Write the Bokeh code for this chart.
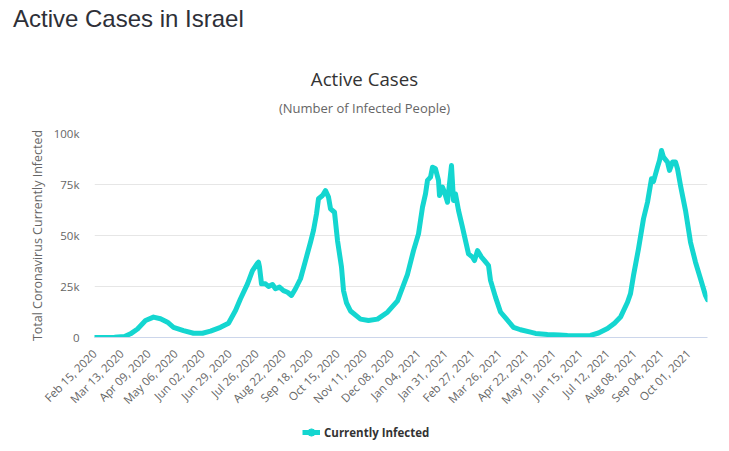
import math
import pandas as pd
from bokeh.plotting import figure
from bokeh.models import (Range1d, FixedTicker, DatetimeTickFormatter, Div,
                          Legend, LegendItem, ColumnDataSource)
from bokeh.layouts import column
from bokeh.embed import file_html
from bokeh.resources import INLINE

# ---- data ----
dates = [
    "2020-02-15", "2020-03-06", "2020-03-16", "2020-03-22", "2020-03-29",
    "2020-04-06", "2020-04-14", "2020-04-21", "2020-04-28", "2020-05-04",
    "2020-05-14", "2020-05-24", "2020-06-02", "2020-06-10", "2020-06-20",
    "2020-06-28", "2020-07-05", "2020-07-10", "2020-07-17", "2020-07-22",
    "2020-07-27", "2020-07-28", "2020-07-29", "2020-07-31", "2020-08-04",
    "2020-08-07", "2020-08-11", "2020-08-14", "2020-08-18", "2020-08-22",
    "2020-08-26", "2020-08-30", "2020-09-03", "2020-09-08", "2020-09-13",
    "2020-09-18", "2020-09-21", "2020-09-24", "2020-09-26", "2020-09-30",
    "2020-10-03", "2020-10-06", "2020-10-08", "2020-10-12", "2020-10-15",
    "2020-10-19", "2020-10-21", "2020-10-24", "2020-10-28", "2020-11-07",
    "2020-11-15", "2020-11-24", "2020-12-04", "2020-12-14", "2020-12-24",
    "2020-12-30", "2021-01-04", "2021-01-08", "2021-01-11", "2021-01-13",
    "2021-01-16", "2021-01-18", "2021-01-21", "2021-01-24", "2021-01-25",
    "2021-01-28", "2021-01-30", "2021-02-02", "2021-02-04", "2021-02-06",
    "2021-02-08", "2021-02-10", "2021-02-13", "2021-02-17", "2021-02-20",
    "2021-02-23", "2021-02-27", "2021-03-01", "2021-03-04", "2021-03-08",
    "2021-03-11", "2021-03-15", "2021-03-17", "2021-03-22", "2021-03-27",
    "2021-04-09", "2021-04-16", "2021-04-26", "2021-05-01", "2021-05-13",
    "2021-05-25", "2021-06-02", "2021-06-14", "2021-06-25", "2021-07-03",
    "2021-07-12", "2021-07-19", "2021-07-25", "2021-08-01", "2021-08-04",
    "2021-08-07", "2021-08-12", "2021-08-17", "2021-08-21", "2021-08-25",
    "2021-08-27", "2021-08-31", "2021-09-02", "2021-09-04", "2021-09-06",
    "2021-09-10", "2021-09-12", "2021-09-15", "2021-09-18", "2021-09-20",
    "2021-09-23", "2021-09-28", "2021-10-03", "2021-10-08", "2021-10-13",
    "2021-10-18", "2021-10-20",
]
active = [
    0, 100, 500, 1800, 4200,
    8300, 10000, 9200, 7500, 5000,
    3400, 2100, 2100, 3100, 5000,
    7000, 13200, 19000, 26300, 32800,
    36400, 36900, 34500, 26300, 26300,
    25000, 26000, 23900, 24700, 23000,
    22200, 20600, 23900, 28800, 37700,
    46700, 52500, 60600, 68000, 69600,
    72000, 68800, 63100, 61400, 47500,
    34500, 23000, 17000, 13000, 9000,
    8300, 9000, 12400, 18000, 31000,
    42600, 50800, 63900, 70400, 77000,
    78600, 83500, 82700, 77000, 69600,
    73700, 71200, 66300, 75300, 84300,
    67200, 70400, 62300, 54000, 47500,
    41000, 39400, 37700, 42600, 39400,
    37700, 35300, 28000, 19800, 12500,
    5000, 3800, 2600, 2000, 1500,
    1200, 1000, 900, 1000, 2200,
    4400, 7000, 10000, 17300, 21500,
    30400, 43500, 58200, 66300, 77800,
    76500, 83500, 86800, 91700, 88400,
    86000, 81900, 86000, 86000, 82700,
    74500, 62300, 46700, 36900, 28800,
    20600, 18500,
]
tick_labels = [
    "Feb 15, 2020", "Mar 13, 2020", "Apr 09, 2020", "May 06, 2020",
    "Jun 02, 2020", "Jun 29, 2020", "Jul 26, 2020", "Aug 22, 2020",
    "Sep 18, 2020", "Oct 15, 2020", "Nov 11, 2020", "Dec 08, 2020",
    "Jan 04, 2021", "Jan 31, 2021", "Feb 27, 2021", "Mar 26, 2021",
    "Apr 22, 2021", "May 19, 2021", "Jun 15, 2021", "Jul 12, 2021",
    "Aug 08, 2021", "Sep 04, 2021", "Oct 01, 2021",
]
x_start = "2020-02-15"
x_end = "2021-10-20"
y_ticks = [0, 25000, 50000, 75000, 100000]
y_tick_labels = ["0", "25k", "50k", "75k", "100k"]
series_name = "Currently Infected"

# ---- build ----
src = ColumnDataSource(dict(date=pd.to_datetime(dates), active=active))
tick_ms = [pd.Timestamp(t).value / 1e6 for t in pd.to_datetime(tick_labels, format="%b %d, %Y")]

LINE = "#14d6d0"
FONT = "Open Sans"
W = 729
HEAD_H = 118
FIG_H = 297
LEG_H = 36

p = figure(width=W, height=FIG_H, output_backend="svg", toolbar_location=None,
           x_axis_type="datetime",
           x_range=Range1d(pd.Timestamp(x_start), pd.Timestamp(x_end)),
           y_range=Range1d(0, 100000),
           min_border_left=94, min_border_right=22, min_border_top=15,
           min_border_bottom=78)
p.outline_line_color = None
p.background_fill_color = "white"
p.border_fill_color = "white"

p.line("date", "active", source=src, line_width=5, color=LINE,
       line_join="round", line_cap="round")

# x axis
xa = p.xaxis[0]
xa.ticker = FixedTicker(ticks=tick_ms)
fmt = "%b %d, %Y"
xa.formatter = DatetimeTickFormatter(milliseconds=fmt, seconds=fmt, minsec=fmt,
                                     minutes=fmt, hourmin=fmt, hours=fmt,
                                     days=fmt, months=fmt, years=fmt)
xa.major_label_orientation = math.pi / 4
xa.major_label_text_font = FONT
xa.major_label_text_font_size = "11.5px"
xa.major_label_text_color = "#666666"
xa.axis_line_color = "#ccd6eb"
xa.major_tick_line_color = None
xa.minor_tick_line_color = None
xa.major_tick_out = 0
xa.major_tick_in = 0
xa.major_label_standoff = 14

# y axis
ya = p.yaxis[0]
ya.ticker = FixedTicker(ticks=y_ticks)
ya.major_label_overrides = {t: l for t, l in zip(y_ticks, y_tick_labels)}
ya.major_label_text_font = FONT
ya.major_label_text_font_size = "11.5px"
ya.major_label_text_color = "#666666"
ya.axis_line_color = None
ya.major_tick_line_color = None
ya.minor_tick_line_color = None
ya.major_tick_out = 0
ya.major_tick_in = 0
ya.major_label_standoff = 15
ya.axis_label = "Total Coronavirus Currently Infected"
ya.axis_label_text_font = FONT
ya.axis_label_text_font_size = "12.5px"
ya.axis_label_text_font_style = "normal"
ya.axis_label_text_color = "#666666"
ya.axis_label_standoff = 5

p.xgrid.grid_line_color = None
p.ygrid.grid_line_color = "#e6e6e6"
p.ygrid.grid_line_width = 1

# legend strip (separate small figure so the legend can sit below the axis).
# Its renderers use the same data; the data lies outside this strip's ranges,
# so only the legend glyphs are visible.
lf = figure(width=W, height=LEG_H, output_backend="svg", toolbar_location=None,
            x_range=Range1d(0, 1), y_range=Range1d(0, 1),
            x_axis_location=None, y_axis_location=None,
            min_border_left=0, min_border_right=0, min_border_top=0, min_border_bottom=0)
lf.outline_line_color = None
lf.xgrid.grid_line_color = None
lf.ygrid.grid_line_color = None
leg_line = lf.line("date", "active", source=src, line_width=5, color=LINE)
leg_dot = lf.scatter("date", "active", source=src, size=9, color=LINE, marker="circle")
legend = Legend(items=[LegendItem(label=series_name, renderers=[leg_line, leg_dot])],
                location=(208, 9), orientation="horizontal",
                border_line_color=None, background_fill_alpha=0,
                padding=0, margin=0, glyph_width=18, glyph_height=20,
                label_standoff=4, label_text_font=FONT,
                label_text_font_size="11.5px", label_text_font_style="bold",
                label_text_color="#333333")
lf.add_layout(legend)

header_html = (
    f'<div style="position:relative;width:{W}px;height:{HEAD_H}px;">'
    '<div style="position:absolute;left:13px;top:5px;white-space:nowrap;'
    "font-family:'Liberation Sans',Arial,sans-serif;font-size:24px;line-height:28px;"
    'color:#2e3038;">Active Cases in Israel</div>'
    f'<div style="position:absolute;left:0;top:67px;width:{W}px;text-align:center;'
    "font-family:'Open Sans';font-size:18.7px;line-height:24px;color:#333333;\">Active Cases</div>"
    f'<div style="position:absolute;left:0;top:99px;width:{W}px;text-align:center;'
    "font-family:'Open Sans';font-size:13px;line-height:18px;color:#666666;\">(Number of Infected People)</div>"
    '</div>'
)
header = Div(text=header_html, width=W, height=HEAD_H, margin=0)

layout = column(header, p, lf, spacing=0)
open("out.html", "w").write(file_html(layout, INLINE))
